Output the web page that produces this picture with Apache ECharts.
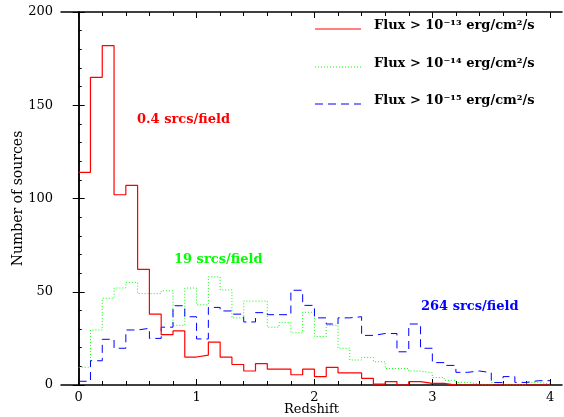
<!DOCTYPE html>
<html><head><meta charset="utf-8">
<script src="https://cdn.jsdelivr.net/npm/echarts@6/dist/echarts.min.js"></script>
<style>html,body{margin:0;padding:0;background:#fff}#c{width:564px;height:417px}</style>
</head><body><div id="c"></div>
<script>
// Bin edges (redshift), 40 bins of width 0.1 from 0 to 4
const binEdges = [0.0,0.1,0.2,0.3,0.4,0.5,0.6,0.7,0.8,0.9,1.0,1.1,1.2,1.3,1.4,1.5,1.6,1.7,1.8,1.9,2.0,
                  2.1,2.2,2.3,2.4,2.5,2.6,2.7,2.8,2.9,3.0,3.1,3.2,3.3,3.4,3.5,3.6,3.7,3.8,3.9,4.0];
// Flux > 1e-13
const redCounts = [114,165,182,102,107,62,38,27,29,15,16,23,15,11,7.5,11.5,8.5,8.5,5.5,8.5,
                   4.5,9.5,6.5,6.5,3.5,0.5,1.8,0,1.8,0.9,0.9,0,0,0,0,0,0,0,0,0];
// Flux > 1e-14
const greenCounts = [9.5,29.5,46.5,52,55,49,49,50.5,32,52,43,58,51,36,45,45,31,33.5,28,39,
                     26,32,19.7,13.4,14.8,12.5,8.8,8.8,7.5,6.5,4,2.5,1.4,0.5,0,1.3,0,0,1.4,0.5];
// Flux > 1e-15
const blueCounts = [2,13,24.5,19.7,29.5,30.4,25,31,42.5,36.6,24.7,41.6,39.7,38,33.8,38.8,37.7,37.7,50.8,42.7,
                    36,32.7,36,36.6,26.6,27.6,27.6,17.8,32.7,19.7,12,10.5,6.8,7.5,6.6,1.3,4.5,1.4,2.3,2.3];
const xMajorTicks = [0,1,2,3,4];
const xMinorTicks = [0.2,0.4,0.6,0.8,1.2,1.4,1.6,1.8,2.2,2.4,2.6,2.8,3.2,3.4,3.6,3.8];
const legendLabels = ['Flux > 10\u207B\u00B9\u00B3 erg/cm\u00B2/s','Flux > 10\u207B\u00B9\u2074 erg/cm\u00B2/s','Flux > 10\u207B\u00B9\u2075 erg/cm\u00B2/s'];
const annotations = ['0.4 srcs/field','19 srcs/field','264 srcs/field'];

function stepData(vals){
  const d = [];
  for (let i = 0; i < vals.length; i++) d.push([binEdges[i], vals[i]]);
  d.push([binEdges[vals.length], vals[vals.length-1]]);
  return d;
}
const FONT = 'DejaVu Serif';
const RED = '#ff0000', GREEN = '#00ff00', BLUE = '#0000ff';
const xBase = {type:'value', min:-0.15, max:4.1, splitLine:{show:false}};
const chart = echarts.init(document.getElementById('c'), null, {renderer:'canvas'});
chart.setOption({
  animation:false,
  backgroundColor:'#fff',
  grid:{left:61, right:2, top:12, bottom:32, containLabel:false, outerBoundsMode:'none'},
  xAxis:[
    Object.assign({}, xBase, {position:'bottom',
      axisLine:{show:true, lineStyle:{color:'#000', width:1.5}},
      axisTick:{show:true, inside:true, length:6, lineStyle:{color:'#000'}, customValues:xMajorTicks},
      axisLabel:{show:true, color:'#000', fontFamily:FONT, fontSize:13, margin:6, customValues:xMajorTicks},
      name:'Redshift', nameLocation:'middle', nameGap:18, nameMoveOverlap:false,
      nameTextStyle:{color:'#000', fontFamily:FONT, fontSize:13}}),
    Object.assign({}, xBase, {position:'bottom',
      axisLine:{show:false},
      axisTick:{show:true, inside:true, length:4, lineStyle:{color:'#000'}, customValues:xMinorTicks},
      axisLabel:{show:false}}),
    Object.assign({}, xBase, {position:'top',
      axisLine:{show:true, lineStyle:{color:'#000', width:1.5}},
      axisTick:{show:true, inside:true, length:6, lineStyle:{color:'#000'}, customValues:xMajorTicks},
      axisLabel:{show:false}}),
    Object.assign({}, xBase, {position:'top',
      axisLine:{show:false},
      axisTick:{show:true, inside:true, length:4, lineStyle:{color:'#000'}, customValues:xMinorTicks},
      axisLabel:{show:false}})
  ],
  yAxis:[
    {type:'value', position:'left', min:0, max:200, interval:50, splitLine:{show:false},
      axisLine:{show:true, lineStyle:{color:'#000', width:1.5}},
      axisTick:{show:true, inside:true, length:6, lineStyle:{color:'#000'}},
      minorTick:{show:true, splitNumber:5, length:3, lineStyle:{color:'#000'}},
      axisLabel:{color:'#000', fontFamily:FONT, fontSize:13, margin:8},
      name:'Number of sources', nameLocation:'middle', nameGap:36, nameRotate:90, nameMoveOverlap:false,
      nameTextStyle:{color:'#000', fontFamily:FONT, fontSize:14}},
    {type:'value', position:'right', min:0, max:200, interval:50, splitLine:{show:false},
      axisLine:{show:true, lineStyle:{color:'#000', width:1.5}},
      axisTick:{show:true, inside:true, length:6, lineStyle:{color:'#000'}},
      axisLabel:{show:false}}
  ],
  series:[
    {type:'line', name:legendLabels[1], xAxisIndex:0, yAxisIndex:0, step:'end', showSymbol:false, z:3,
      data:stepData(greenCounts), lineStyle:{color:GREEN, width:1, type:[1,2]}},
    {type:'line', name:legendLabels[2], xAxisIndex:0, yAxisIndex:0, step:'end', showSymbol:false, z:4,
      data:stepData(blueCounts), lineStyle:{color:BLUE, width:1, type:[8,5]}},
    {type:'line', name:legendLabels[0], xAxisIndex:0, yAxisIndex:0, step:'end', showSymbol:false, z:5,
      data:stepData(redCounts), lineStyle:{color:RED, width:1.2, type:'solid'}}
  ],
  graphic:[
    {type:'line', shape:{x1:315, y1:29, x2:361, y2:29}, style:{stroke:RED, lineWidth:1}},
    {type:'line', shape:{x1:315, y1:67, x2:361, y2:67}, style:{stroke:GREEN, lineWidth:1, lineDash:[1,2]}},
    {type:'line', shape:{x1:315, y1:104, x2:361, y2:104}, style:{stroke:BLUE, lineWidth:1, lineDash:[8,5]}},
    {type:'text', x:374, y:26, style:{text:legendLabels[0], fill:'#000', font:'bold 13px "DejaVu Serif"', verticalAlign:'middle'}},
    {type:'text', x:374, y:64, style:{text:legendLabels[1], fill:'#000', font:'bold 13px "DejaVu Serif"', verticalAlign:'middle'}},
    {type:'text', x:374, y:101, style:{text:legendLabels[2], fill:'#000', font:'bold 13px "DejaVu Serif"', verticalAlign:'middle'}},
    {type:'text', x:137, y:120, style:{text:annotations[0], fill:RED, font:'bold 13px "DejaVu Serif"', verticalAlign:'middle'}},
    {type:'text', x:174, y:260, style:{text:annotations[1], fill:GREEN, font:'bold 13px "DejaVu Serif"', verticalAlign:'middle'}},
    {type:'text', x:421, y:307, style:{text:annotations[2], fill:BLUE, font:'bold 13px "DejaVu Serif"', verticalAlign:'middle'}}
  ]
});
</script></body></html>
